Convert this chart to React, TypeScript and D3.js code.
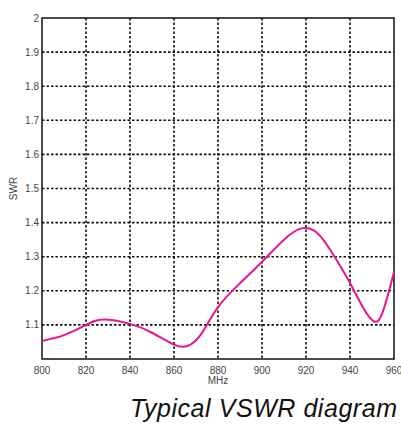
import React from "react";
import * as d3 from "d3";

const freqs = [800, 810, 820, 828, 840, 850, 860, 866, 872, 880, 890, 900, 910, 918, 925, 932, 940, 946, 951, 955, 960];
const swr = [1.053, 1.07, 1.1, 1.116, 1.103, 1.077, 1.042, 1.038, 1.07, 1.152, 1.222, 1.285, 1.35, 1.383, 1.37, 1.31, 1.223, 1.15, 1.11, 1.14, 1.255];
const xTicks = [800, 820, 840, 860, 880, 900, 920, 940, 960];
const yTicks = [1.1, 1.2, 1.3, 1.4, 1.5, 1.6, 1.7, 1.8, 1.9, 2];

const W = 401, H = 424;
const left = 42, right = 394, top = 18, bottom = 359;

export default function App() {
  const x = d3.scaleLinear().domain([800, 960]).range([left, right]);
  const y = d3.scaleLinear().domain([1, 2]).range([bottom, top]);
  const data = freqs.map((f, i) => [f, swr[i]] as [number, number]);
  const line = d3.line<[number, number]>().x(d => x(d[0])).y(d => y(d[1])).curve(d3.curveNatural);
  const font = "'Liberation Sans', Arial, sans-serif";
  return (
    <svg width={W} height={H} style={{ position: "absolute", left: 0, top: 0 }} fontFamily={font}>
      <rect width={W} height={H} fill="#fff" />
      {xTicks.slice(1, -1).map(t => (
        <line key={"gx" + t} x1={x(t)} x2={x(t)} y1={top} y2={bottom} stroke="#111" strokeWidth={1.6} strokeDasharray="2.5,2" />
      ))}
      {yTicks.slice(0, -1).map(t => (
        <line key={"gy" + t} x1={left} x2={right} y1={y(t)} y2={y(t)} stroke="#111" strokeWidth={1.6} strokeDasharray="2.5,2" />
      ))}
      <rect x={left} y={top} width={right - left} height={bottom - top} fill="none" stroke="#111" strokeWidth={1.5} />
      <path d={line(data) || ""} fill="none" stroke="#e8168a" strokeWidth={2} />
      {xTicks.map(t => (
        <text key={"tx" + t} x={x(t)} y={bottom + 15} textAnchor="middle" fontSize={10} fill="#444">{t}</text>
      ))}
      {yTicks.map(t => (
        <text key={"ty" + t} x={left - 3} y={y(t) + 3.5} textAnchor="end" fontSize={10} fill="#444">{t}</text>
      ))}
      <text x={x(880)} y={bottom + 25} textAnchor="middle" fontSize={10} fill="#444">MHz</text>
      <text transform={`translate(17,${(top + bottom) / 2}) rotate(-90)`} textAnchor="middle" fontSize={10} fill="#444">SWR</text>
      <text x={130} y={417} fontSize={25} fontStyle="italic" fill="#111" textLength={267} lengthAdjust="spacing">Typical VSWR diagram</text>
    </svg>
  );
}
